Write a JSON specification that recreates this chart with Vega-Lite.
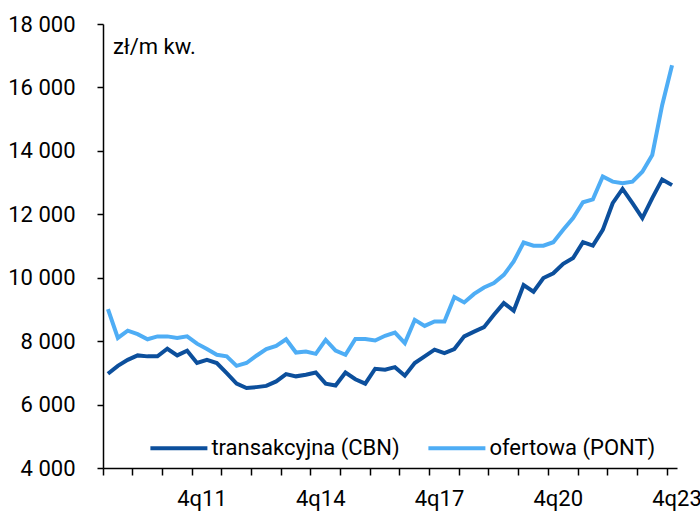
{
  "$schema": "https://vega.github.io/schema/vega-lite/v6.json",
  "width": 574,
  "height": 444,
  "autosize": {"type": "none"},
  "padding": {"left": 103, "top": 24, "right": 23, "bottom": 44},
  "background": "white",
  "config": {"font": "Roboto", "view": {"stroke": null}},
  "data": {"values": [
    {"q":"3q09","s":"transakcyjna (CBN)","v":6970},{"q":"4q09","s":"transakcyjna (CBN)","v":7220},{"q":"1q10","s":"transakcyjna (CBN)","v":7410},{"q":"2q10","s":"transakcyjna (CBN)","v":7550},{"q":"3q10","s":"transakcyjna (CBN)","v":7520},{"q":"4q10","s":"transakcyjna (CBN)","v":7520},{"q":"1q11","s":"transakcyjna (CBN)","v":7760},{"q":"2q11","s":"transakcyjna (CBN)","v":7550},{"q":"3q11","s":"transakcyjna (CBN)","v":7700},{"q":"4q11","s":"transakcyjna (CBN)","v":7310},
    {"q":"1q12","s":"transakcyjna (CBN)","v":7410},{"q":"2q12","s":"transakcyjna (CBN)","v":7310},{"q":"3q12","s":"transakcyjna (CBN)","v":6990},{"q":"4q12","s":"transakcyjna (CBN)","v":6660},{"q":"1q13","s":"transakcyjna (CBN)","v":6520},{"q":"2q13","s":"transakcyjna (CBN)","v":6550},{"q":"3q13","s":"transakcyjna (CBN)","v":6590},{"q":"4q13","s":"transakcyjna (CBN)","v":6730},{"q":"1q14","s":"transakcyjna (CBN)","v":6960},{"q":"2q14","s":"transakcyjna (CBN)","v":6890},
    {"q":"3q14","s":"transakcyjna (CBN)","v":6940},{"q":"4q14","s":"transakcyjna (CBN)","v":7010},{"q":"1q15","s":"transakcyjna (CBN)","v":6660},{"q":"2q15","s":"transakcyjna (CBN)","v":6600},{"q":"3q15","s":"transakcyjna (CBN)","v":7010},{"q":"4q15","s":"transakcyjna (CBN)","v":6800},{"q":"1q16","s":"transakcyjna (CBN)","v":6660},{"q":"2q16","s":"transakcyjna (CBN)","v":7130},{"q":"3q16","s":"transakcyjna (CBN)","v":7100},{"q":"4q16","s":"transakcyjna (CBN)","v":7180},
    {"q":"1q17","s":"transakcyjna (CBN)","v":6910},{"q":"2q17","s":"transakcyjna (CBN)","v":7310},{"q":"3q17","s":"transakcyjna (CBN)","v":7520},{"q":"4q17","s":"transakcyjna (CBN)","v":7730},{"q":"1q18","s":"transakcyjna (CBN)","v":7620},{"q":"2q18","s":"transakcyjna (CBN)","v":7750},{"q":"3q18","s":"transakcyjna (CBN)","v":8150},{"q":"4q18","s":"transakcyjna (CBN)","v":8300},{"q":"1q19","s":"transakcyjna (CBN)","v":8440},{"q":"2q19","s":"transakcyjna (CBN)","v":8830},
    {"q":"3q19","s":"transakcyjna (CBN)","v":9200},{"q":"4q19","s":"transakcyjna (CBN)","v":8960},{"q":"1q20","s":"transakcyjna (CBN)","v":9770},{"q":"2q20","s":"transakcyjna (CBN)","v":9560},{"q":"3q20","s":"transakcyjna (CBN)","v":9990},{"q":"4q20","s":"transakcyjna (CBN)","v":10140},{"q":"1q21","s":"transakcyjna (CBN)","v":10440},{"q":"2q21","s":"transakcyjna (CBN)","v":10620},{"q":"3q21","s":"transakcyjna (CBN)","v":11120},{"q":"4q21","s":"transakcyjna (CBN)","v":11010},
    {"q":"1q22","s":"transakcyjna (CBN)","v":11510},{"q":"2q22","s":"transakcyjna (CBN)","v":12350},{"q":"3q22","s":"transakcyjna (CBN)","v":12800},{"q":"4q22","s":"transakcyjna (CBN)","v":12350},{"q":"1q23","s":"transakcyjna (CBN)","v":11880},{"q":"2q23","s":"transakcyjna (CBN)","v":12510},{"q":"3q23","s":"transakcyjna (CBN)","v":13100},{"q":"4q23","s":"transakcyjna (CBN)","v":12920},
    {"q":"3q09","s":"ofertowa (PONT)","v":9010},{"q":"4q09","s":"ofertowa (PONT)","v":8100},{"q":"1q10","s":"ofertowa (PONT)","v":8330},{"q":"2q10","s":"ofertowa (PONT)","v":8220},{"q":"3q10","s":"ofertowa (PONT)","v":8060},{"q":"4q10","s":"ofertowa (PONT)","v":8150},{"q":"1q11","s":"ofertowa (PONT)","v":8150},{"q":"2q11","s":"ofertowa (PONT)","v":8100},{"q":"3q11","s":"ofertowa (PONT)","v":8150},{"q":"4q11","s":"ofertowa (PONT)","v":7920},
    {"q":"1q12","s":"ofertowa (PONT)","v":7750},{"q":"2q12","s":"ofertowa (PONT)","v":7570},{"q":"3q12","s":"ofertowa (PONT)","v":7520},{"q":"4q12","s":"ofertowa (PONT)","v":7220},{"q":"1q13","s":"ofertowa (PONT)","v":7310},{"q":"2q13","s":"ofertowa (PONT)","v":7540},{"q":"3q13","s":"ofertowa (PONT)","v":7750},{"q":"4q13","s":"ofertowa (PONT)","v":7850},{"q":"1q14","s":"ofertowa (PONT)","v":8060},{"q":"2q14","s":"ofertowa (PONT)","v":7640},
    {"q":"3q14","s":"ofertowa (PONT)","v":7670},{"q":"4q14","s":"ofertowa (PONT)","v":7600},{"q":"1q15","s":"ofertowa (PONT)","v":8040},{"q":"2q15","s":"ofertowa (PONT)","v":7700},{"q":"3q15","s":"ofertowa (PONT)","v":7570},{"q":"4q15","s":"ofertowa (PONT)","v":8070},{"q":"1q16","s":"ofertowa (PONT)","v":8070},{"q":"2q16","s":"ofertowa (PONT)","v":8020},{"q":"3q16","s":"ofertowa (PONT)","v":8170},{"q":"4q16","s":"ofertowa (PONT)","v":8270},
    {"q":"1q17","s":"ofertowa (PONT)","v":7940},{"q":"2q17","s":"ofertowa (PONT)","v":8670},{"q":"3q17","s":"ofertowa (PONT)","v":8480},{"q":"4q17","s":"ofertowa (PONT)","v":8620},{"q":"1q18","s":"ofertowa (PONT)","v":8620},{"q":"2q18","s":"ofertowa (PONT)","v":9390},{"q":"3q18","s":"ofertowa (PONT)","v":9220},{"q":"4q18","s":"ofertowa (PONT)","v":9490},{"q":"1q19","s":"ofertowa (PONT)","v":9690},{"q":"2q19","s":"ofertowa (PONT)","v":9830},
    {"q":"3q19","s":"ofertowa (PONT)","v":10090},{"q":"4q19","s":"ofertowa (PONT)","v":10510},{"q":"1q20","s":"ofertowa (PONT)","v":11110},{"q":"2q20","s":"ofertowa (PONT)","v":11010},{"q":"3q20","s":"ofertowa (PONT)","v":11010},{"q":"4q20","s":"ofertowa (PONT)","v":11120},{"q":"1q21","s":"ofertowa (PONT)","v":11510},{"q":"2q21","s":"ofertowa (PONT)","v":11880},{"q":"3q21","s":"ofertowa (PONT)","v":12380},{"q":"4q21","s":"ofertowa (PONT)","v":12470},
    {"q":"1q22","s":"ofertowa (PONT)","v":13190},{"q":"2q22","s":"ofertowa (PONT)","v":13030},{"q":"3q22","s":"ofertowa (PONT)","v":12980},{"q":"4q22","s":"ofertowa (PONT)","v":13030},{"q":"1q23","s":"ofertowa (PONT)","v":13340},{"q":"2q23","s":"ofertowa (PONT)","v":13870},{"q":"3q23","s":"ofertowa (PONT)","v":15440},{"q":"4q23","s":"ofertowa (PONT)","v":16700}
  ]},
  "mark": {"type": "line", "strokeWidth": 4},
  "encoding": {
    "x": {
      "field": "q", "type": "ordinal", "sort": null,
      "scale": {"type": "band", "paddingInner": 0, "paddingOuter": 0},
      "axis": {
        "title": null,
        "values": ["3q09","2q10","1q11","4q11","3q12","2q13","1q14","4q14","3q15","2q16","1q17","4q17","3q18","2q19","1q20","4q20","3q21","2q22","1q23","4q23"],
        "bandPosition": 0,
        "labelExpr": "indexof(['4q11','4q14','4q17','4q20','4q23'], datum.value) >= 0 ? datum.value : ''",
        "labelOffset": 4.95,
        "labelAngle": 0,
        "labelOverlap": false,
        "labelBound": false,
        "labelFlush": false,
        "tickSize": 7,
        "tickWidth": 1.5,
        "tickColor": "black",
        "domainColor": "black",
        "domainWidth": 1.5,
        "labelPadding": 13,
        "labelFontSize": 22,
        "labelColor": "black",
        "labelBaseline": "top"
      }
    },
    "y": {
      "field": "v", "type": "quantitative",
      "scale": {"domain": [4000, 18000], "nice": false, "zero": false},
      "axis": {
        "values": [4000, 6000, 8000, 10000, 12000, 14000, 16000, 18000],
        "labelExpr": "replace(format(datum.value, ','), ',', ' ')",
        "grid": false,
        "tickSize": 6,
        "tickWidth": 1.5,
        "tickColor": "black",
        "domainColor": "black",
        "domainWidth": 1.5,
        "labelPadding": 22,
        "labelFontSize": 22,
        "labelColor": "black",
        "title": "zł/m kw.",
        "titleAngle": 0,
        "titleX": 9.4,
        "titleY": 29.3,
        "titleAlign": "left",
        "titleBaseline": "alphabetic",
        "titleFontSize": 22,
        "titleFontWeight": "normal",
        "titleColor": "black"
      }
    },
    "color": {
      "field": "s", "type": "nominal",
      "scale": {"domain": ["transakcyjna (CBN)", "ofertowa (PONT)"], "range": ["#0C4F9C", "#4EADF5"]},
      "legend": {
        "title": null,
        "orient": "none",
        "legendX": 45.4,
        "legendY": 393.5,
        "direction": "horizontal",
        "symbolType": "stroke",
        "symbolSize": 3249,
        "symbolStrokeWidth": 4,
        "labelFontSize": 22,
        "labelOffset": 2,
        "columnPadding": 20,
        "labelColor": "black",
        "labelLimit": 400,
        "padding": 0
      }
    }
  }
}
